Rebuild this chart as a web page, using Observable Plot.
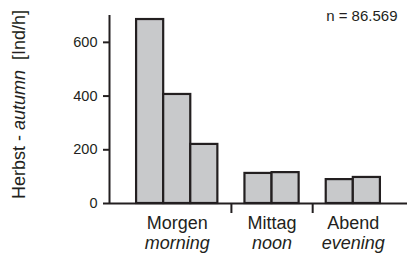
<!DOCTYPE html>
<html>
<head>
<meta charset="utf-8">
<script src="https://cdn.jsdelivr.net/npm/d3@7"></script>
<script src="https://cdn.jsdelivr.net/npm/@observablehq/plot@0.6"></script>
<style>
  body { margin: 0; background: #fff; }
  svg { display: block; }
</style>
</head>
<body>
<div id="chart"></div>
<script>
// ---- data ----
const groupsDe = ["Morgen", "Mittag", "Abend"];
const groupsEn = ["morning", "noon", "evening"];
const morningValues = [685, 406, 220];
const noonValues = [112, 115];
const eveningValues = [89, 97];
const yTicks = [0, 200, 400, 600];
const yMax = 700;
const nLabel = "n = 86.569";
const titleDe = "Herbst - ";
const titleEn = "autumn";
const titleUnit = "\u00a0\u00a0[Ind/h]";

// ---- build table (one slot per bar, one empty slot between groups) ----
const groupValues = [morningValues, noonValues, eveningValues];
const bars = [];
const labels = [];
const separators = [];
let slot = 1;
groupValues.forEach((vals, gi) => {
  const start = slot;
  vals.forEach(v => { bars.push({x1: slot, x2: slot + 1, value: v}); slot++; });
  labels.push({x: (start + slot) / 2, de: groupsDe[gi], en: groupsEn[gi]});
  if (gi < groupValues.length - 1) separators.push(slot + 0.5);
  slot++;
});
const xMax = slot;

const ink = "#231f20";
const font = "Liberation Sans, Arial, Helvetica, sans-serif";

const chart = Plot.plot({
  width: 407,
  height: 257,
  marginLeft: 109,
  marginRight: 0,
  marginTop: 15,
  marginBottom: 54,
  style: {fontFamily: font, color: ink, background: "#fff"},
  x: {domain: [0, xMax]},
  y: {domain: [0, yMax]},
  marks: [
    Plot.rectY(bars, {x1: "x1", x2: "x2", y: "value", fill: "#c8c9cb", stroke: ink, strokeWidth: 2.2}),
    Plot.ruleY([0], {stroke: ink, strokeWidth: 2}),
    Plot.ruleX([0], {y1: 0, y2: yMax, stroke: ink, strokeWidth: 2}),
    Plot.axisY({ticks: yTicks, tickSize: 6, tickPadding: 6, fontSize: 14.5, stroke: ink, strokeWidth: 2, fill: ink, label: null}),
    Plot.axisX({ticks: separators, tickSize: 10, tickFormat: () => "", stroke: ink, strokeWidth: 2, label: null}),
    Plot.text(labels, {x: "x", y: 0, text: "de", dy: 25, lineAnchor: "bottom", fontSize: 18, fill: ink}),
    Plot.text(labels, {x: "x", y: 0, text: "en", dy: 45, lineAnchor: "bottom", fontSize: 18, fontStyle: "italic", fill: ink}),
    Plot.text([nLabel], {frameAnchor: "top-right", textAnchor: "end", lineAnchor: "bottom", dx: -10, dy: 5, fontSize: 15, fill: ink}),
    Plot.text([titleDe + titleEn + titleUnit], {frameAnchor: "left", rotate: -90, textAnchor: "middle", lineAnchor: "bottom", dx: -85, dy: -5, fontSize: 18, fill: ink})
  ]
});
document.getElementById("chart").appendChild(chart);

// italicise the English word of the y title
chart.querySelectorAll("text").forEach(t => {
  if (t.textContent === titleDe + titleEn + titleUnit) {
    t.textContent = "";
    const ns = "http://www.w3.org/2000/svg";
    [[titleDe, "normal"], [titleEn, "italic"], [titleUnit, "normal"]].forEach(([s, st]) => {
      const sp = document.createElementNS(ns, "tspan");
      sp.setAttribute("font-style", st);
      sp.textContent = s;
      t.appendChild(sp);
    });
  }
});
</script>
</body>
</html>
